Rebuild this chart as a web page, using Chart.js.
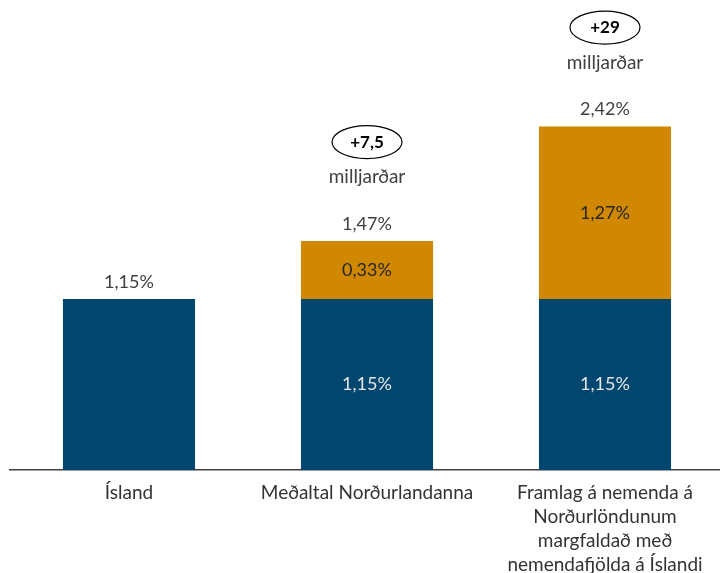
<!DOCTYPE html>
<html>
<head>
<meta charset="utf-8">
<script src="https://cdn.jsdelivr.net/npm/chart.js@4"></script>
<style>
    body { margin: 0; background: #fff; overflow: hidden; }
    #wrap { width: 724px; height: 573px; }
</style>
</head>
<body>
<div id="wrap"><canvas id="myChart"></canvas></div>
<script>
// Flokkar
const categories = [
    'Ísland',
    'Meðaltal Norðurlandanna',
    ['Framlag á nemenda á', 'Norðurlöndunum', 'margfaldað með', 'nemendafjölda á Íslandi']
];
// Súluhæðir eins og þær eru teiknaðar á myndinni
const baseValues = [1.15, 1.15, 1.15];
const extraValues = [0, 0.39, 1.16];
// Merkingar eins og þær standa á myndinni
const baseLabels = ['', '1,15%', '1,15%'];
const extraLabels = ['', '0,33%', '1,27%'];
const totalLabels = ['1,15%', '1,47%', '2,42%'];
const amountLabels = ['', '+7,5', '+29'];
const amountUnit = 'milljarðar';

const FONT = 'Lato, "Open Sans", sans-serif';

// Teiknar tölur á og fyrir ofan súlurnar
const labelPlugin = {
    id: 'labels',
    afterDatasetsDraw(chart) {
        const ctx = chart.ctx;
        const base = chart.getDatasetMeta(0).data;
        const extra = chart.getDatasetMeta(1).data;
        ctx.save();
        ctx.textAlign = 'center';
        ctx.textBaseline = 'middle';
        categories.forEach((c, i) => {
            const b = base[i], e = extra[i];
            ctx.font = '18px ' + FONT;
            if (baseLabels[i]) {
                ctx.fillStyle = '#e6e6e6';
                ctx.fillText(baseLabels[i], b.x, (b.y + b.base) / 2);
            }
            if (extraLabels[i]) {
                ctx.fillStyle = '#262626';
                ctx.fillText(extraLabels[i], e.x, (e.y + e.base) / 2);
            }
            const top = extraValues[i] > 0 ? e.y : b.y;
            ctx.fillStyle = '#404040';
            ctx.fillText(totalLabels[i], b.x, top - 17);
            if (amountLabels[i]) {
                ctx.font = '19px ' + FONT;
                ctx.fillText(amountUnit, b.x, top - 64);
                ctx.beginPath();
                ctx.ellipse(b.x, top - 99, 35, 16.5, 0, 0, Math.PI * 2);
                ctx.strokeStyle = '#000';
                ctx.lineWidth = 1.2;
                ctx.stroke();
                ctx.fillStyle = '#000';
                ctx.font = 'bold 17px ' + FONT;
                ctx.fillText(amountLabels[i], b.x, top - 99);
            }
        });
        ctx.restore();
    }
};

const ctx = document.getElementById('myChart').getContext('2d');
new Chart(ctx, {
    type: 'bar',
    data: {
        labels: categories,
        datasets: [
            {
                label: 'Ísland',
                data: baseValues,
                backgroundColor: '#00466f',
                barPercentage: 0.555,
                categoryPercentage: 1
            },
            {
                label: 'Viðbót',
                data: extraValues,
                backgroundColor: '#d08800',
                barPercentage: 0.555,
                categoryPercentage: 1
            }
        ]
    },
    options: {
        responsive: true,
        maintainAspectRatio: false,
        animation: false,
        layout: {
            padding: { left: 10, right: 0, top: 24, bottom: 0 }
        },
        plugins: {
            legend: { display: false },
            tooltip: { enabled: false }
        },
        scales: {
            x: {
                stacked: true,
                grid: { display: false },
                border: { display: true, color: '#404040', width: 1.5 },
                afterFit: (scale) => { scale.height = 103; },
                ticks: {
                    color: '#333',
                    padding: 3,
                    maxRotation: 0,
                    autoSkip: false,
                    font: { family: FONT, size: 19, lineHeight: 1.26 }
                }
            },
            y: {
                stacked: true,
                display: false,
                min: 0,
                max: 3
            }
        }
    },
    plugins: [labelPlugin]
});
</script>
</body>
</html>
